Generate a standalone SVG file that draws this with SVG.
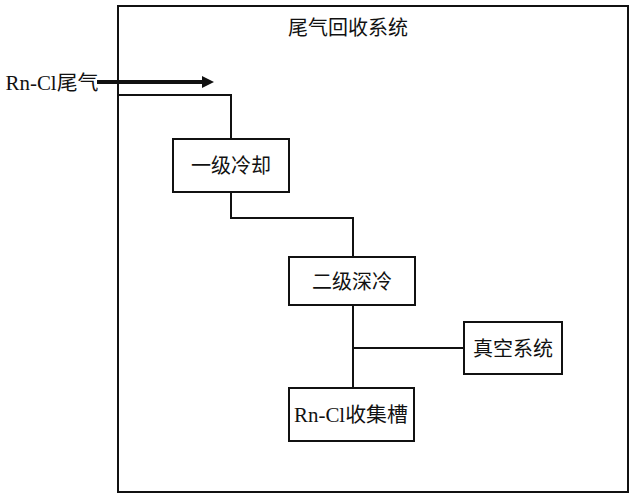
<svg xmlns="http://www.w3.org/2000/svg" width="635" height="500" viewBox="0 0 635 500">
<style>
text{font-family:"Liberation Serif","Noto Sans CJK SC",serif;font-size:20px;fill:#111;text-anchor:middle}
.box{fill:#fff;stroke:#111;stroke-width:2}
.ln{fill:none;stroke:#111;stroke-width:2}
</style>
<defs>
<marker id="ah" markerWidth="4" markerHeight="4" refX="1" refY="2" orient="auto" markerUnits="strokeWidth">
<path d="M0,0.5 L3,2 L0,3.5 Z" fill="#111"/>
</marker>
</defs>
<rect width="635" height="500" fill="#fff"/>
<g id="system">
<rect class="box" x="118" y="6" width="510" height="486"/>
<text x="348" y="35">尾气回收系统</text>
</g>
<g id="connectors">
<line x1="97" y1="82" x2="206" y2="82" stroke="#111" stroke-width="4" marker-end="url(#ah)"/>
<polyline class="ln" points="119,95 231,95 231,139"/>
<polyline class="ln" points="231,192 231,218 353,218 353,257"/>
<line class="ln" x1="353" y1="305" x2="353" y2="388"/>
<line class="ln" x1="353" y1="348" x2="464" y2="348"/>
</g>
<g id="input"><text x="52" y="90" textLength="93" lengthAdjust="spacingAndGlyphs">Rn-Cl尾气</text></g>
<g id="n1"><rect class="box" x="173" y="139" width="116" height="53"/><text x="231" y="173">一级冷却</text></g>
<g id="n2"><rect class="box" x="289" y="257" width="126" height="48"/><text x="352" y="289">二级深冷</text></g>
<g id="n3"><rect class="box" x="464" y="322" width="98" height="52"/><text x="513" y="356">真空系统</text></g>
<g id="n4"><rect class="box" x="289" y="388" width="125" height="53"/><text x="351" y="422" textLength="114" lengthAdjust="spacingAndGlyphs">Rn-Cl收集槽</text></g>
</svg>
